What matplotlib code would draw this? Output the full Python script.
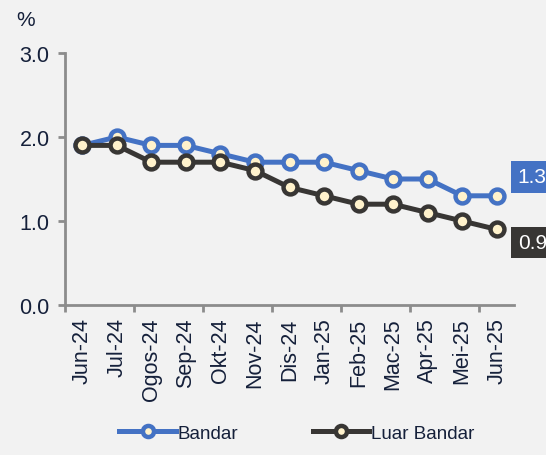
import numpy as np
import matplotlib.pyplot as plt

plt.rcParams['font.family'] = ['Liberation Sans', 'DejaVu Sans']

# data
bulan = ['Jun-24', 'Jul-24', 'Ogos-24', 'Sep-24', 'Okt-24', 'Nov-24', 'Dis-24',
         'Jan-25', 'Feb-25', 'Mac-25', 'Apr-25', 'Mei-25', 'Jun-25']
bandar = [1.9, 2.0, 1.9, 1.9, 1.8, 1.7, 1.7, 1.7, 1.6, 1.5, 1.5, 1.3, 1.3]
luar_bandar = [1.9, 1.9, 1.7, 1.7, 1.7, 1.6, 1.4, 1.3, 1.2, 1.2, 1.1, 1.0, 0.9]

bg = '#f2f2f2'
biru = '#4472c4'
gelap = '#383634'
krim = '#fff2cc'
teks = '#15203a'

fig = plt.figure(figsize=(5.46, 4.56), dpi=100, facecolor=bg)
ax = fig.add_axes([65/546, 150/456, 449/546, 252/456], facecolor=bg)

x = np.arange(len(bulan))
ax.plot(x, bandar, color=biru, lw=3.6, marker='o', ms=10, mew=3.2,
        mfc=krim, mec=biru, label='Bandar', zorder=3)
ax.plot(x, luar_bandar, color=gelap, lw=3.6, marker='o', ms=10, mew=3.2,
        mfc=krim, mec=gelap, label='Luar Bandar', zorder=4)

ax.set_xlim(-0.5, len(bulan) - 0.5)
ax.set_ylim(0, 3.0)
ax.set_yticks([0, 1.0, 2.0, 3.0])
ax.set_yticklabels(['0.0', '1.0', '2.0', '3.0'])

# labels at category centres, tick marks between every second category
ax.set_xticks(x)
ax.set_xticklabels(bulan, rotation=90)
ax.set_xticks(np.arange(-0.5, len(bulan) - 0.5, 2), minor=True)
ax.tick_params(axis='x', which='major', length=0, pad=9, labelsize=15.5, labelcolor=teks)
ax.tick_params(axis='x', which='minor', length=5, width=2, color='#8c8c8c', direction='out')
ax.tick_params(axis='y', length=5, width=2, color='#8c8c8c', pad=6, labelsize=15.5,
               labelcolor=teks)

for s in ['top', 'right']:
    ax.spines[s].set_visible(False)
for s in ['left', 'bottom']:
    ax.spines[s].set_color('#8c8c8c')
    ax.spines[s].set_linewidth(2)

fig.text(16/546, 1 - 21/456, '%', fontsize=15, color=teks, va='center')

# end labels
ax.annotate(f'{bandar[-1]:.1f}', xy=(x[-1], bandar[-1]), xytext=(21, 19),
            textcoords='offset pixels', va='center', ha='left', fontsize=15,
            color='white', annotation_clip=False,
            bbox=dict(boxstyle='square,pad=0.3', fc=biru, ec='none'))
ax.annotate(f'{luar_bandar[-1]:.1f}', xy=(x[-1], luar_bandar[-1]), xytext=(21, -13),
            textcoords='offset pixels', va='center', ha='left', fontsize=15,
            color='white', annotation_clip=False,
            bbox=dict(boxstyle='square,pad=0.3', fc=gelap, ec='none'))

leg = fig.legend(loc='center', bbox_to_anchor=(297/546, 22/456), ncol=2,
                 frameon=False, fontsize=13.5, handlelength=3.0, columnspacing=4.0,
                 handletextpad=0.1, markerscale=0.8)
for t in leg.get_texts():
    t.set_color(teks)

fig.savefig('out.png', dpi=100, facecolor=bg)
